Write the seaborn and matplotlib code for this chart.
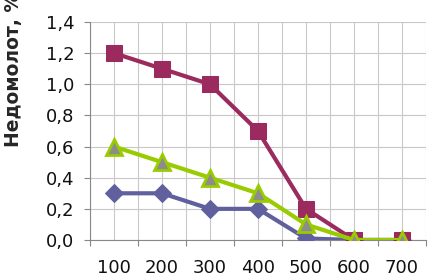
import matplotlib
matplotlib.use("Agg")
import matplotlib.pyplot as plt
from matplotlib.ticker import MultipleLocator, FuncFormatter
import seaborn as sns
import pandas as pd

# data
x_vals = [100, 200, 300, 400, 500, 600, 700]
diamond = [0.3, 0.3, 0.2, 0.2, 0.01, 0.0, 0.0]
square = [1.2, 1.1, 1.0, 0.7, 0.2, 0.0, 0.0]
triangle = [0.6, 0.5, 0.4, 0.3, 0.1, 0.0, 0.0]
y_ticks = [0.0, 0.2, 0.4, 0.6, 0.8, 1.0, 1.2, 1.4]

sns.set_style("white")
plt.rcParams['font.family'] = ['DejaVu Sans']

fig = plt.figure(figsize=(4.28, 2.77), dpi=100)
ax = fig.add_axes([90 / 428, 37 / 277, 336 / 428, 218 / 277])

df = pd.DataFrame({"x": x_vals, "diamond": diamond, "square": square, "triangle": triangle})

sns.lineplot(data=df, x="x", y="diamond", ax=ax, color="#60609e", lw=3,
             marker="D", markersize=9, markeredgecolor="#60609e", zorder=3)
sns.lineplot(data=df, x="x", y="square", ax=ax, color="#9b2b5f", lw=3,
             marker="s", markersize=11, markeredgecolor="#9b2b5f", zorder=4)
sns.lineplot(data=df, x="x", y="triangle", ax=ax, color="#99cc00", lw=3,
             marker="^", markersize=11, markerfacecolor="#8c8c8c",
             markeredgecolor="#99cc00", markeredgewidth=2, zorder=5)

ax.set_xlim(50, 750)
ax.set_ylim(0, 1.4)
ax.set_xticks(x_vals)
ax.xaxis.set_minor_locator(MultipleLocator(50))
ax.set_yticks(y_ticks)
ax.yaxis.set_major_formatter(FuncFormatter(lambda v, p: f"{v:.1f}".replace(".", ",")))
ax.grid(True, which="both", color="#c8c8c8", lw=0.8)
ax.set_axisbelow(True)

for s in ["top", "right"]:
    ax.spines[s].set_visible(False)
for s in ["left", "bottom"]:
    ax.spines[s].set_color("#888888")
    ax.spines[s].set_linewidth(0.8)

ax.tick_params(axis="x", which="major", length=0, pad=14, labelsize=13, labelcolor="#111111")
ax.tick_params(axis="y", which="major", length=4.3, width=0.8, color="#888888", pad=7,
               labelsize=13, labelcolor="#111111", left=True)
ax.tick_params(axis="x", which="minor", length=4.3, width=0.8, color="#888888",
               direction="out", bottom=True)
ax.set_xlabel("")
ax.set_ylabel("")

fig.text(13.5 / 428, 1 - 147 / 277, "Недомолот, %", rotation=90, ha="center",
         va="bottom", fontsize=13.5, fontweight="bold")

fig.savefig("out.png", dpi=100)
